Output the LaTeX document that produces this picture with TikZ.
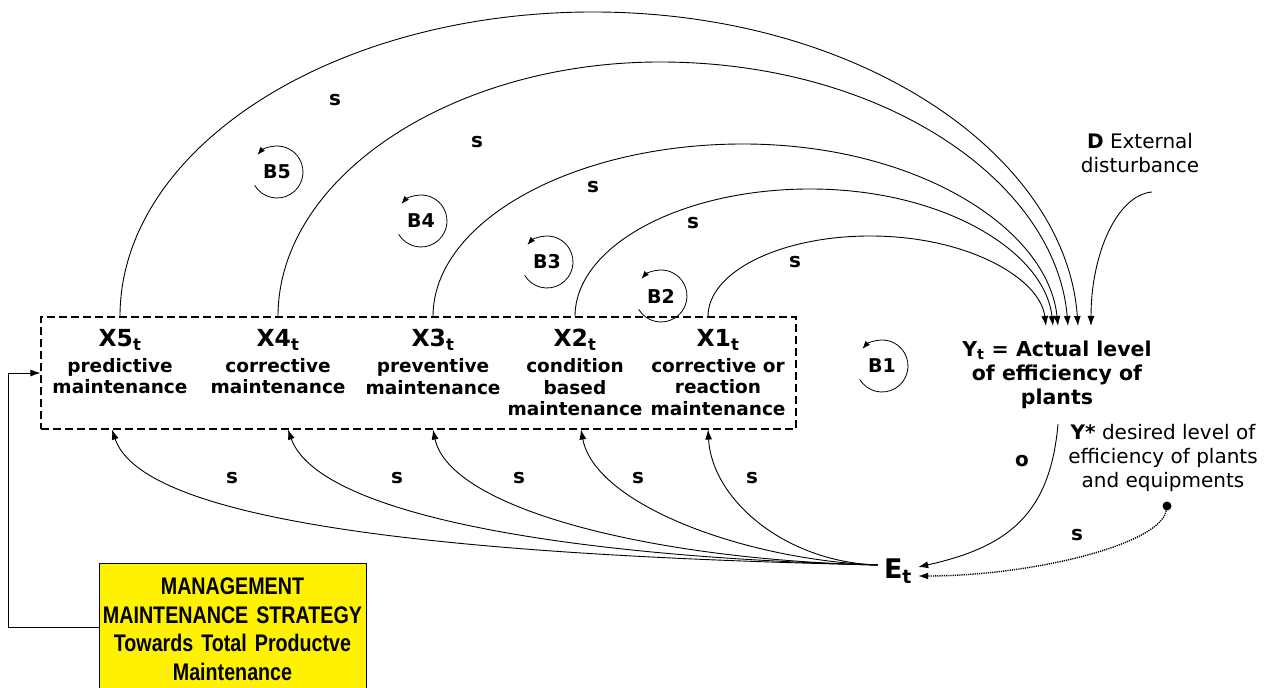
\documentclass[tikz,border=0pt]{standalone}
\usepackage{fontspec}
\setmainfont{DejaVu Sans}
\newfontfamily\narrowfont[FakeStretch=0.82]{Liberation Sans}
\usetikzlibrary{arrows.meta}

\tikzset{
  arr/.style={-{Latex[length=10pt,width=7pt]}, line width=0.9pt},
  circarr/.style={-{Latex[length=8pt,width=6pt]}, line width=0.8pt},
  lbl/.style={font=\bfseries\fontsize{20}{24}\selectfont, inner sep=0pt},
  loopname/.style={font=\bfseries\fontsize{19}{22}\selectfont, inner sep=0pt},
  xvar/.style={align=center, anchor=north, inner sep=0pt,
    font=\bfseries\fontsize{18.5}{21.5}\selectfont},
  plain/.style={align=center, inner sep=0pt, font=\fontsize{20}{24}\selectfont},
}
\newcommand{\hdr}[1]{{\fontsize{23.5}{26}\selectfont #1\textsubscript{t}}}

\begin{document}
\begin{tikzpicture}[x=1pt,y=1pt]
\useasboundingbox (0,0) rectangle (1267,688);

% Dashed box of the strategies
\node[draw, dash pattern=on 8pt off 4pt, line width=1.1pt, minimum width=755pt,
  minimum height=112pt, inner sep=0pt] (strat) at (418.5,315) {};

% Maintenance types
\node[xvar] (x5) at (120,359) {\hdr{X5}\\[4.5pt]predictive\\maintenance};
\node[xvar] (x4) at (278,359) {\hdr{X4}\\[4.5pt]corrective\\maintenance};
\node[xvar] (x3) at (433,359) {\hdr{X3}\\[4.5pt]preventive\\maintenance};
\node[xvar] (x2) at (575,359) {\hdr{X2}\\[4.5pt]condition\\based\\maintenance};
\node[xvar] (x1) at (718,359) {\hdr{X1}\\[4.5pt]corrective or\\reaction\\maintenance};

% Actual level, disturbance, desired level
\node[lbl, align=center, anchor=north, inner ysep=15pt,
  font=\bfseries\fontsize{20.5}{24}\selectfont] (yt) at (1057,362)
  {Y\textsubscript{t} = Actual level\\of efficiency of\\plants};
\node[plain, anchor=south, inner ysep=19pt] (dist) at (1140,496)
  {\textbf{D} External\\disturbance};
\node[plain, anchor=north] (ystar) at (1163,264)
  {\textbf{Y*} desired level of\\efficiency of plants\\and equipments};
\node[circle, fill, inner sep=0pt, minimum size=9pt] (ydot) at (1167,182) {};

% Error
\node[font=\bfseries\fontsize{27}{30}\selectfont, inner xsep=6pt, inner ysep=2pt]
  (et) at (898,117) {E\textsubscript{t}};

% Management box (runs off the bottom edge)
\node[draw=blue!40!black, fill=yellow, line width=0.8pt, anchor=north,
  text width=263pt, inner xsep=2pt, inner ysep=8pt, minimum height=132pt, align=center,
  font=\narrowfont\bfseries\fontsize{24}{28.5}\selectfont] (mms) at (232.5,125)
  {MANAGEMENT\\MAINTENANCE STRATEGY\\Towards Total Productve\\Maintenance};
\draw[arr] ([yshift=2pt]mms.west) -- ++(-90,0) |- (strat.west);

% Upper arcs towards Y
\draw[arr] (x5 |- strat.north) .. controls +(0,168) and +(-261,0) .. (593,676)
  .. controls +(267,0) and +(-12,171) .. ([xshift=21pt]yt.north);
\draw[arr] (x4 |- strat.north) .. controls +(0,140) and +(-207,0) .. (660,626)
  .. controls +(224,0) and +(-12,144) .. ([xshift=11pt]yt.north);
\draw[arr] (x3 |- strat.north) .. controls +(0,95) and +(-170,0) .. (743,544)
  .. controls +(173,0) and +(-10,98) .. ([xshift=1pt]yt.north);
\draw[arr] (x2 |- strat.north) .. controls +(0,70) and +(-130,0) .. (810,499)
  .. controls +(134,0) and +(-8,74) .. ([xshift=-4pt]yt.north);
\draw[arr] ([xshift=-10pt]x1 |- strat.north) .. controls +(0,45) and +(-89,0) .. (870,452)
  .. controls +(97,0) and +(-6,48) .. ([xshift=-11pt]yt.north);
\draw[arr] ([xshift=12pt]dist.south) .. controls +(-35,-3) and +(0,72) .. ([xshift=34pt]yt.north);

% Lower arcs from E
\draw[arr] ([yshift=6pt]et.west) .. controls +(-450,10) and +(30,-90) .. ([xshift=-8pt]x5 |- strat.south);
\draw[arr] ([yshift=6pt]et.west) .. controls +(-313,8) and +(30,-85) .. ([xshift=10pt]x4 |- strat.south);
\draw[arr] ([yshift=6pt]et.west) .. controls +(-223,5) and +(17,-80) .. (x3 |- strat.south);
\draw[arr] ([yshift=6pt]et.west) .. controls +(-133,5) and +(14,-75) .. ([xshift=6pt]x2 |- strat.south);
\draw[arr] ([yshift=6pt]et.west) .. controls +(-93,3) and +(4,-70) .. ([xshift=-10pt]x1 |- strat.south);

% Y to E and Y* to E
\draw[arr] ([xshift=1pt]yt.south) .. controls +(-8,-90) and +(90,20) .. ([yshift=4pt]et.east);
\draw[arr, line width=1.4pt, dash pattern=on 1.2pt off 1pt] (ydot) .. controls +(-7,-39) and +(112,0) .. ([yshift=-5pt]et.east);

% Signs
\node[lbl] (st5) at (335,588) {s};
\node[lbl] (st4) at (477,546) {s};
\node[lbl] (st3) at (593,501) {s};
\node[lbl] (st2) at (693,465) {s};
\node[lbl] (st1) at (795,426) {s};
\node[lbl] (sb5) at (232,210) {s};
\node[lbl] (sb4) at (397,210) {s};
\node[lbl] (sb3) at (519,210) {s};
\node[lbl] (sb2) at (638,210) {s};
\node[lbl] (sb1) at (752,210) {s};
\node[lbl] (sy) at (1077,153) {s};
\node[lbl] (oy) at (1022,227) {o};

% Balancing loops
\node[loopname] (b5) at (277,516) {B5};
\draw[circarr] (b5) ++(211:26) arc[start angle=211, end angle=499, radius=26];
\node[loopname] (b4) at (421,467) {B4};
\draw[circarr] (b4) ++(211:26) arc[start angle=211, end angle=499, radius=26];
\node[loopname] (b3) at (547,426) {B3};
\draw[circarr] (b3) ++(211:26) arc[start angle=211, end angle=499, radius=26];
\node[loopname] (b2) at (661,392) {B2};
\draw[circarr] (b2) ++(211:26) arc[start angle=211, end angle=499, radius=26];
\node[loopname] (b1) at (882,322) {B1};
\draw[circarr] (b1) ++(211:26) arc[start angle=211, end angle=499, radius=26];

\end{tikzpicture}
\end{document}
